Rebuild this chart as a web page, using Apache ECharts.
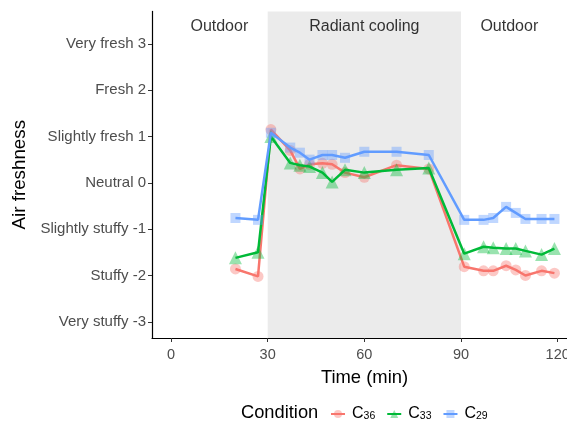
<!DOCTYPE html>
<html><head><meta charset="utf-8">
<script src="https://cdn.jsdelivr.net/npm/echarts@6/dist/echarts.min.js"></script>
<style>html,body{margin:0;padding:0;background:#fff}#c{width:567px;height:421px}</style>
</head><body><div id="c"></div>
<script>
var times = [20, 27, 31, 37, 40, 43, 47, 50, 54, 60, 70, 80, 91, 97, 100, 104, 107, 110, 115, 119];
var c36 = [-1.86, -2.02, 1.15, 0.7, 0.3, 0.4, 0.42, 0.4, 0.22, 0.12, 0.38, 0.3, -1.81, -1.9, -1.9, -1.79, -1.88, -2.0, -1.9, -1.95];
var c33 = [-1.62, -1.5, 1.0, 0.43, 0.38, 0.35, 0.22, 0.02, 0.28, 0.22, 0.28, 0.32, -1.53, -1.38, -1.4, -1.42, -1.42, -1.47, -1.55, -1.42];
var c29 = [-0.76, -0.8, 1.08, 0.76, 0.65, 0.5, 0.6, 0.6, 0.54, 0.67, 0.67, 0.6, -0.8, -0.8, -0.76, -0.52, -0.65, -0.78, -0.78, -0.78];
var seriesNames = ['C36', 'C33', 'C29'];
var yTickValues = [-3, -2, -1, 0, 1, 2, 3];
var yTickLabels = ['Very stuffy -3', 'Stuffy -2', 'Slightly stuffy -1', 'Neutral 0', 'Slightly fresh 1', 'Fresh 2', 'Very fresh 3'];
var xTickValues = [0, 30, 60, 90, 120];
var phaseLabels = ['Outdoor', 'Radiant cooling', 'Outdoor'];
var phaseX = [15, 60, 105];
var phaseY = 3.37;
var coolingStart = 30, coolingEnd = 90;

function pairs(v){ return times.map(function(t,i){ return [t, v[i]]; }); }
var colors = ['#F8766D', '#00BA38', '#619CFF'];
var symbols = ['circle', 'triangle', 'rect'];
var sizes = [11, 13, 10];
var vals = [c36, c33, c29];
var FONT = 'Liberation Sans, Arial, sans-serif';

var series = vals.map(function(v, i){
  return {
    name: seriesNames[i], type: 'line', data: pairs(v),
    symbol: symbols[i], symbolSize: sizes[i],
    itemStyle: { color: colors[i], opacity: 0.4 },
    lineStyle: { color: colors[i], width: 2.5, opacity: 1 },
    z: 3 + i
  };
});
series[0].markArea = {
  silent: true,
  itemStyle: { color: '#EBEBEB' },
  data: [[{ xAxis: coolingStart }, { xAxis: coolingEnd }]]
};
series.push({
  type: 'scatter', symbolSize: 0, silent: true,
  data: phaseX.map(function(x, i){ return { value: [x, phaseY], name: phaseLabels[i] }; }),
  label: { show: true, position: 'inside', formatter: '{b}', color: '#000', fontSize: 16, fontFamily: FONT },
  z: 10
});

var chart = echarts.init(document.getElementById('c'), null, { renderer: 'canvas' });
chart.setOption({
  animation: false,
  textStyle: { fontFamily: FONT },
  grid: { left: 152, top: 11.4, right: -10, bottom: 83, containLabel: false, outerBoundsMode: 'none' },
  title: { text: 'Condition', left: 236, top: 399, textStyle: { fontSize: 18.3, fontWeight: 'normal', color: '#000', fontFamily: FONT } },
  legend: {
    left: 325, top: 401, itemWidth: 14, itemHeight: 10, itemGap: 11,
    data: seriesNames,
    formatter: function(n){ return 'C{s|' + n.slice(1) + '}'; },
    textStyle: { fontSize: 16, color: '#000', fontFamily: FONT, padding: [0,0,0,2],
      rich: { s: { fontSize: 10.5, verticalAlign: 'bottom', padding: [5, 0, 0, 0], color: '#000', fontFamily: FONT } } }
  },
  xAxis: {
    type: 'value', min: -5.9, max: 126,
    name: 'Time (min)', nameLocation: 'middle', nameGap: 31,
    nameTextStyle: { fontSize: 18.4, color: '#000', fontFamily: FONT },
    splitLine: { show: false },
    axisLine: { show: true, onZero: false, lineStyle: { color: '#000', width: 1.2 } },
    axisTick: { show: true, length: 4, customValues: xTickValues, lineStyle: { color: '#333' } },
    axisLabel: { customValues: xTickValues, fontSize: 14.5, color: '#4D4D4D', margin: 9, fontFamily: FONT }
  },
  yAxis: {
    type: 'value', min: -3.35, max: 3.7,
    name: 'Air freshness', nameLocation: 'middle', nameGap: 121, nameRotate: 90,
    nameTextStyle: { fontSize: 18.8, color: '#000', fontFamily: FONT },
    splitLine: { show: false },
    axisLine: { show: true, onZero: false, lineStyle: { color: '#000', width: 1.2 } },
    axisTick: { show: true, length: 4, customValues: yTickValues, lineStyle: { color: '#333' } },
    axisLabel: { customValues: yTickValues, fontSize: 15, color: '#4D4D4D', margin: 6, fontFamily: FONT,
      formatter: function(v){ var k = yTickValues.indexOf(Math.round(v)); return k >= 0 ? yTickLabels[k] : ''; } }
  },
  series: series
});
</script></body></html>
